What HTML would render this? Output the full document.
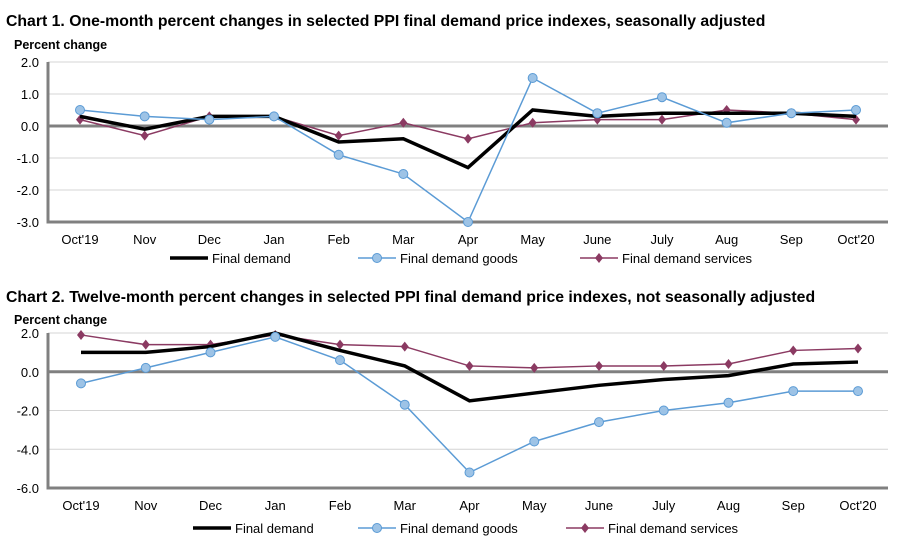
<!DOCTYPE html>
<html><head><meta charset="utf-8"><style>
body{margin:0;background:#fff;font-family:"Liberation Sans",Arial,sans-serif}
svg{display:block}
</style></head><body>
<svg id="svg" width="912" height="546" xmlns="http://www.w3.org/2000/svg">
<text x="6" y="26" font-size="15.8" font-weight="bold">Chart 1. One-month percent changes in selected PPI final demand price indexes, seasonally adjusted</text>
<text x="14" y="49" font-size="12.5" font-weight="bold">Percent change</text>
<text x="6" y="302" font-size="15.8" font-weight="bold">Chart 2. Twelve-month percent changes in selected PPI final demand price indexes, not seasonally adjusted</text>
<text x="14" y="324" font-size="12.5" font-weight="bold">Percent change</text>
</svg>
<script>
const categories=["Oct'19","Nov","Dec","Jan","Feb","Mar","Apr","May","June","July","Aug","Sep","Oct'20"];
const c1Final=[0.3,-0.1,0.3,0.3,-0.5,-0.4,-1.3,0.5,0.3,0.4,0.4,0.4,0.3];
const c1Goods=[0.5,0.3,0.2,0.3,-0.9,-1.5,-3.0,1.5,0.4,0.9,0.1,0.4,0.5];
const c1Services=[0.2,-0.3,0.3,0.3,-0.3,0.1,-0.4,0.1,0.2,0.2,0.5,0.4,0.2];
const c1Ticks=[2,1,0,-1,-2,-3];
const c2Final=[1.0,1.0,1.3,2.0,1.1,0.3,-1.5,-1.1,-0.7,-0.4,-0.2,0.4,0.5];
const c2Goods=[-0.6,0.2,1.0,1.8,0.6,-1.7,-5.2,-3.6,-2.6,-2.0,-1.6,-1.0,-1.0];
const c2Services=[1.9,1.4,1.4,1.9,1.4,1.3,0.3,0.2,0.3,0.3,0.4,1.1,1.2];
const c2Ticks=[2,0,-2,-4,-6];
const NS="http://www.w3.org/2000/svg";
const svg=document.getElementById('svg');
function mk(tag,attrs,parent){const e=document.createElementNS(NS,tag);for(const k in attrs)e.setAttribute(k,attrs[k]);(parent||svg).appendChild(e);return e;}
function chart(id,cfg,fin,goods,serv,ticks){
  const g=mk('g',{});
  
  
  const y=v=>cfg.top+(cfg.max-v)/(cfg.max-cfg.min)*(cfg.bot-cfg.top);
  const x=i=>cfg.x0+i*(cfg.x1-cfg.x0)/(categories.length-1);
  ticks.forEach(t=>{
    if(t!==0&&t!==cfg.min){const l=mk('line',{x1:cfg.left,x2:cfg.right,y1:y(t),y2:y(t),stroke:'#d4d4d4','stroke-width':1},g);
    
    }
    const tx=mk('text',{x:cfg.left-9,y:y(t)+5,'text-anchor':'end','font-size':13},g);
    tx.textContent=t.toFixed(1);
    
    
  });
  const ax=mk('path',{d:`M${cfg.left},${cfg.top} V${cfg.bot} H${cfg.right}`,stroke:'#808080','stroke-width':3,fill:'none'},g);
  
  
  const z=mk('line',{x1:cfg.left,x2:cfg.right,y1:y(0),y2:y(0),stroke:'#808080','stroke-width':3},g);
  
  
  categories.forEach((c,i)=>{const t=mk('text',{x:x(i),y:cfg.bot+22,'text-anchor':'middle','font-size':13},g);t.textContent=c;
    
    });
  const pts=a=>a.map((v,i)=>x(i)+','+y(v)).join(' ');
  const p3=mk('polyline',{points:pts(serv),stroke:'#8b3a62',fill:'none','stroke-width':1.5},g);
  
  
  serv.forEach((v,i)=>{const d=mk('path',{d:`M${x(i)},${y(v)-5}l4,5l-4,5l-4,-5z`,fill:'#8b3a62'},g);
    
    });
  const p1=mk('polyline',{points:pts(fin),stroke:'#000',fill:'none','stroke-width':3.5},g);
  
  
  const p2=mk('polyline',{points:pts(goods),stroke:'#5b9bd5',fill:'none','stroke-width':1.5},g);
  
  
  goods.forEach((v,i)=>{const c=mk('circle',{cx:x(i),cy:y(v),r:4.5,fill:'#9dc3e6',stroke:'#5b9bd5','stroke-width':1},g);
    
    });
  const ly=cfg.legY;
  const lg=mk('g',{},g);
  
  
  mk('line',{x1:cfg.leg[0],x2:cfg.leg[0]+38,y1:ly,y2:ly,stroke:'#000','stroke-width':3.5},lg);
  let t=mk('text',{x:cfg.leg[0]+42,y:ly+5,'font-size':13},lg);t.textContent='Final demand';
  
  
  mk('line',{x1:cfg.leg[1],x2:cfg.leg[1]+38,y1:ly,y2:ly,stroke:'#5b9bd5','stroke-width':1.5},lg);
  mk('circle',{cx:cfg.leg[1]+19,cy:ly,r:4.5,fill:'#9dc3e6',stroke:'#5b9bd5'},lg);
  t=mk('text',{x:cfg.leg[1]+42,y:ly+5,'font-size':13},lg);t.textContent='Final demand goods';
  
  
  mk('line',{x1:cfg.leg[2],x2:cfg.leg[2]+38,y1:ly,y2:ly,stroke:'#8b3a62','stroke-width':1.5},lg);
  mk('path',{d:`M${cfg.leg[2]+19},${ly-5}l4,5l-4,5l-4,-5z`,fill:'#8b3a62'},lg);
  t=mk('text',{x:cfg.leg[2]+42,y:ly+5,'font-size':13},lg);t.textContent='Final demand services';
  
  
}
chart('chart1',{left:48,right:888,top:62,bot:222,max:2,min:-3,x0:80,x1:856,legY:258,leg:[170,358,580]},c1Final,c1Goods,c1Services,c1Ticks);
chart('chart2',{left:48,right:888,top:333,bot:488,max:2,min:-6,x0:81,x1:858,legY:528,leg:[193,358,566]},c2Final,c2Goods,c2Services,c2Ticks);
</script>
</body></html>
